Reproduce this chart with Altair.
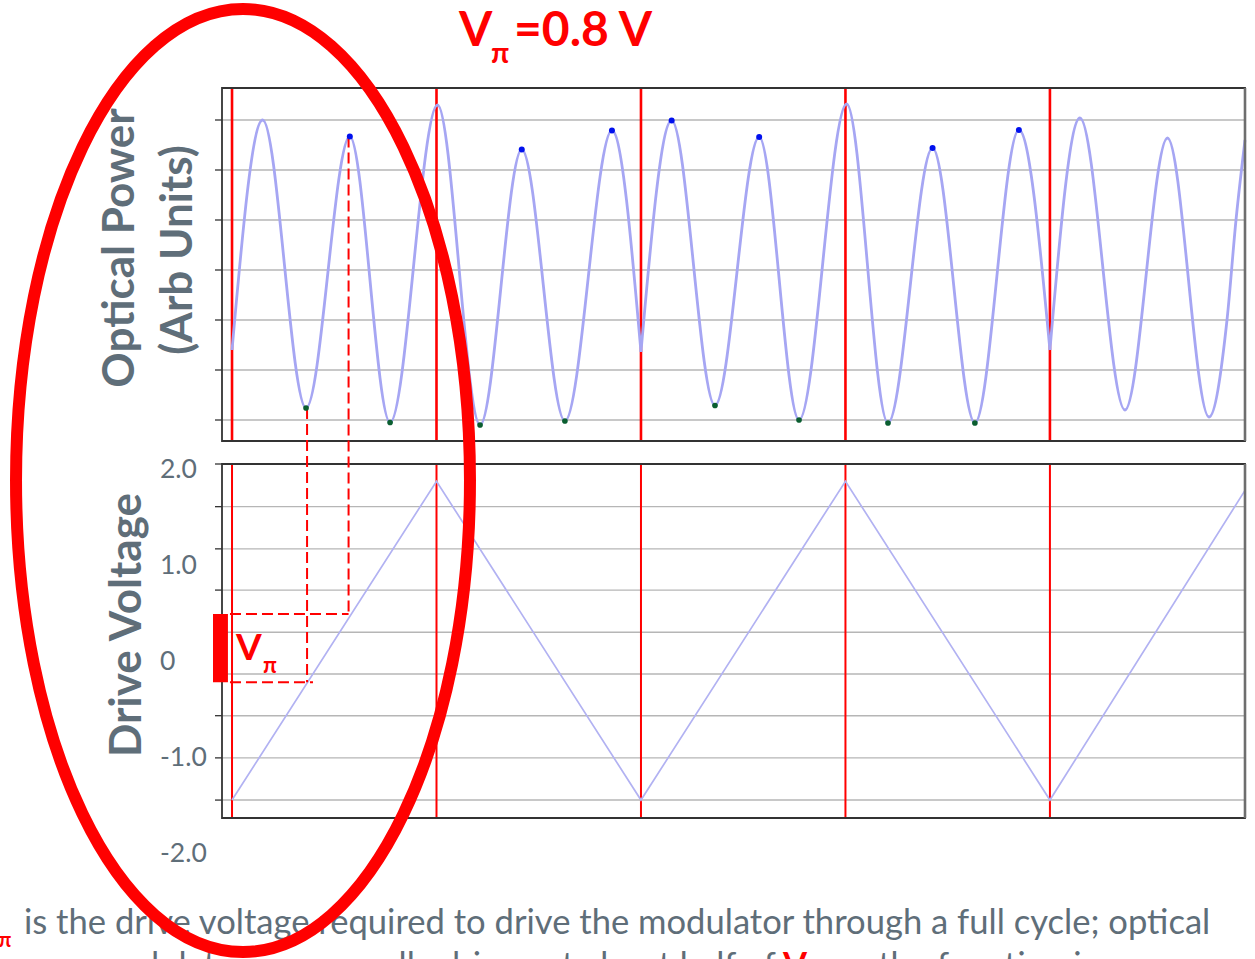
import altair as alt
import pandas as pd

# ---------------- data ----------------
# time axis in units of half a drive-ramp period (red markers at the turning points)
red_t = [0, 1, 2, 3, 4]

# optical power trace (arb. units), split at the ramp turning points (cusps)
trace_seg = ["a"] * 11 + ["b"] * 11 + ["c"] * 8
trace_t = [0.0, 0.150, 0.362, 0.576, 0.773, 1.005, 1.213, 1.417, 1.628, 1.858, 2.0,
           2.0, 2.150, 2.362, 2.578, 2.773, 3.006, 3.208, 3.426, 3.633, 3.848, 4.0,
           4.0, 4.147, 4.367, 4.575, 4.778, 4.866, 4.910, 4.954]
trace_p = [1.40, 6.00, 0.24, 5.67, -0.05, 6.30, -0.10, 5.41, -0.02, 5.79, 1.36,
           1.36, 5.99, 0.29, 5.66, 0.00, 6.32, -0.06, 5.44, -0.06, 5.80, 1.40,
           1.40, 6.04, 0.20, 5.64, 0.06, 2.00, 4.00, 5.60]

# detected maxima (blue) and minima (green)
peak_t = [0.576, 1.417, 1.858, 2.150, 2.578, 3.426, 3.848]
peak_p = [5.67, 5.41, 5.79, 5.99, 5.66, 5.44, 5.80]
trough_t = [0.362, 0.773, 1.213, 1.628, 2.362, 2.773, 3.208, 3.633]
trough_p = [0.24, -0.05, -0.10, -0.02, 0.29, 0.00, -0.06, -0.06]

# drive voltage ramp (V)
ramp_t = [0, 1, 2, 3, 4, 4.954]
ramp_v = [-1.44, 1.885, -1.44, 1.885, -1.44, 1.79]

# gridlines / ticks
grid_p = [0, 1, 2, 3, 4, 5, 6]
grid_v = [1.62, 1.18, 0.75, 0.31, -0.125, -0.56, -1.0, -1.44]
tick_v = [2.065] + grid_v
label_v = [2, 1, 0, -1, -2]
label_txt = ["2.0", "1.0", "0", "-1.0", "-2.0"]

# V-pi construction
vpi_low, vpi_high = -0.21, 0.50
vpi_t_low, vpi_t_high = 0.367, 0.570

# ---------------- scales ----------------
T_DOM, T_RNG = [-0.049, 4.954], [222, 1245]
P_DOM, P_RNG = [-0.42, 6.64], [441, 88]
V_DOM, V_RNG = [-1.627, 2.065], [818, 464]
TS = alt.Scale(domain=T_DOM, range=T_RNG)
PS = alt.Scale(domain=P_DOM, range=P_RNG)
VS = alt.Scale(domain=V_DOM, range=V_RNG)


def v_to_p(v):
    px = V_RNG[0] + (v - V_DOM[0]) / (V_DOM[1] - V_DOM[0]) * (V_RNG[1] - V_RNG[0])
    return P_DOM[0] + (px - P_RNG[0]) / (P_RNG[1] - P_RNG[0]) * (P_DOM[1] - P_DOM[0])


GRAY = "#5f6e79"
RED = "#ff0000"
FONT = "Lato"
CAP = 34.6


def X(f):
    return alt.X(f, type="quantitative", scale=TS, axis=None)


def YP(f):
    return alt.Y(f, type="quantitative", scale=PS, axis=None)


def YV(f):
    return alt.Y(f, type="quantitative", scale=VS, axis=None)


def label(s, x, y, **kw):
    return alt.Chart(pd.DataFrame({"s": [s]})).mark_text(**kw).encode(
        x=alt.value(x), y=alt.value(y), text="s:N")


layers = []

# gridlines
layers.append(alt.Chart(pd.DataFrame({"p": grid_p})).mark_rule(color="#b6b6b6", strokeWidth=1.6).encode(
    x=alt.value(T_RNG[0]), x2=alt.value(T_RNG[1]), y=YP("p")))
layers.append(alt.Chart(pd.DataFrame({"v": grid_v})).mark_rule(color="#b6b6b6", strokeWidth=1.4).encode(
    x=alt.value(T_RNG[0]), x2=alt.value(T_RNG[1]), y=YV("v")))
# ticks
layers.append(alt.Chart(pd.DataFrame({"p": grid_p})).mark_rule(color="#333333", strokeWidth=1.3).encode(
    x=alt.value(215), x2=alt.value(222), y=YP("p")))
layers.append(alt.Chart(pd.DataFrame({"v": tick_v})).mark_rule(color="#333333", strokeWidth=1.3).encode(
    x=alt.value(215), x2=alt.value(222), y=YV("v")))

# red turning-point markers
layers.append(alt.Chart(pd.DataFrame({"t": red_t})).mark_rule(color=RED, strokeWidth=2.6).encode(
    x=X("t"), y=alt.value(P_RNG[1]), y2=alt.value(P_RNG[0])))
layers.append(alt.Chart(pd.DataFrame({"t": red_t})).mark_rule(color=RED, strokeWidth=2.0).encode(
    x=X("t"), y=alt.value(V_RNG[1]), y2=alt.value(V_RNG[0])))

# traces
trace_df = pd.DataFrame({"t": trace_t, "p": trace_p, "seg": trace_seg})
layers.append(alt.Chart(trace_df).mark_line(interpolate="monotone", color="#a6a6f3", strokeWidth=2.8).encode(
    x=X("t"), y=YP("p"), detail="seg:N"))
ramp_df = pd.DataFrame({"t": ramp_t, "v": ramp_v})
layers.append(alt.Chart(ramp_df).mark_line(color="#b2b2f2", strokeWidth=1.7).encode(
    x=X("t"), y=YV("v")))

# panel frames
layers.append(alt.Chart(pd.DataFrame({"t1": [T_DOM[0]], "t2": [T_DOM[1]], "a": [P_DOM[0]], "b": [P_DOM[1]]}))
              .mark_rect(fillOpacity=0, stroke="#333333", strokeWidth=1.8)
              .encode(x=X("t1"), x2="t2:Q", y=YP("a"), y2="b:Q"))
layers.append(alt.Chart(pd.DataFrame({"t1": [T_DOM[0]], "t2": [T_DOM[1]], "a": [V_DOM[0]], "b": [V_DOM[1]]}))
              .mark_rect(fillOpacity=0, stroke="#333333", strokeWidth=1.8)
              .encode(x=X("t1"), x2="t2:Q", y=YV("a"), y2="b:Q"))
layers.append(alt.Chart(pd.DataFrame({"t": [T_DOM[1]]})).mark_rule(color="#6e6e6e", strokeWidth=2.6).encode(
    x=X("t"), y=alt.value(P_RNG[1]), y2=alt.value(P_RNG[0])))
layers.append(alt.Chart(pd.DataFrame({"t": [T_DOM[1]]})).mark_rule(color="#6e6e6e", strokeWidth=2.6).encode(
    x=X("t"), y=alt.value(V_RNG[1]), y2=alt.value(V_RNG[0])))

# V-pi construction lines
h_df = pd.DataFrame({"v": [vpi_high, vpi_low], "t1": [-0.01, -0.01], "t2": [vpi_t_high, 0.396]})
layers.append(alt.Chart(h_df).mark_rule(color=RED, strokeWidth=2, strokeDash=[11, 5]).encode(
    x=X("t1"), x2="t2:Q", y=YV("v")))
v_df = pd.DataFrame({"t": [vpi_t_high, vpi_t_low],
                     "p1": [5.67, 0.24],
                     "p2": [v_to_p(vpi_high), v_to_p(vpi_low)]})
layers.append(alt.Chart(v_df).mark_rule(color=RED, strokeWidth=2, strokeDash=[11, 5]).encode(
    x=X("t"), y=YP("p1"), y2="p2:Q"))

# extrema markers
layers.append(alt.Chart(pd.DataFrame({"t": peak_t, "p": peak_p})).mark_circle(size=36, opacity=1, color="#0010ee").encode(
    x=X("t"), y=YP("p")))
layers.append(alt.Chart(pd.DataFrame({"t": trough_t, "p": trough_p})).mark_circle(size=32, opacity=1, color="#0a5e30").encode(
    x=X("t"), y=YP("p")))

# red V-pi bar
layers.append(alt.Chart(pd.DataFrame({"t1": [-0.093], "t2": [-0.020], "a": [vpi_low], "b": [vpi_high]}))
              .mark_rect(color=RED).encode(x=X("t1"), x2="t2:Q", y=YV("a"), y2="b:Q"))
layers.append(label("V", 236, 660, align="left", baseline="alphabetic", fontSize=37, fontWeight="bold", font=FONT, color=RED))
layers.append(label("π", 263, 673, align="left", baseline="alphabetic", fontSize=22, fontWeight="bold", font=FONT, color=RED))

# voltage tick labels
layers.append(alt.Chart(pd.DataFrame({"v": label_v, "s": label_txt})).mark_text(
    align="left", baseline="middle", fontSize=26.5, font=FONT, color=GRAY).encode(
    x=alt.value(160), y=YV("v"), text="s:N"))

# axis titles
layers.append(label("Optical Power", 121, 248, angle=270, align="center", baseline="middle",
                    fontSize=44, fontWeight="bold", font=FONT, color=GRAY))
layers.append(label("(Arb Units)", 179, 250, angle=270, align="center", baseline="middle",
                    fontSize=44, fontWeight="bold", font=FONT, color=GRAY))
layers.append(label("Drive Voltage", 128, 625, angle=270, align="center", baseline="middle",
                    fontSize=44, fontWeight="bold", font=FONT, color=GRAY))

# title
layers.append(label("V", 459, 46, align="left", baseline="alphabetic", fontSize=48, fontWeight="bold", font=FONT, color=RED))
layers.append(label("π", 491, 63, align="left", baseline="alphabetic", fontSize=29, fontWeight="bold", font=FONT, color=RED))
layers.append(label("=0.8 V", 514, 46, align="left", baseline="alphabetic", fontSize=48, fontWeight="bold", font=FONT, color=RED))

# caption text
layers.append(label("π", 5, 947, align="center", baseline="alphabetic", fontSize=20, fontWeight="bold", font=FONT, color=RED))
layers.append(label("is the drive voltage required to drive the modulator through a full cycle; optical",
                    24, 934, align="left", baseline="alphabetic", fontSize=CAP, font=FONT, color=GRAY))
layers.append(label("modulators are usually driven at about half of", 776, 977, align="right",
                    baseline="alphabetic", fontSize=CAP, font=FONT, color=GRAY))
layers.append(label("V", 783, 977, align="left", baseline="alphabetic", fontSize=CAP, fontWeight="bold", font=FONT, color=RED))
layers.append(label(", so the function is", 818, 977, align="left", baseline="alphabetic", fontSize=CAP, font=FONT, color=GRAY))

# highlighting ellipse
ELLIPSE = "M -0.4814 0 A 0.4814 1 0 1 1 0.4814 0 A 0.4814 1 0 1 1 -0.4814 0 Z"
layers.append(alt.Chart(pd.DataFrame({"s": [0]})).mark_point(
    shape=ELLIPSE, size=(2 * 471.5) ** 2, filled=False, color=RED, strokeWidth=12, opacity=1).encode(
    x=alt.value(243), y=alt.value(480.5)))

chart = alt.layer(*layers).resolve_scale(y="independent").properties(
    width=1255, height=959, autosize="none", padding=0, background="white"
).configure_view(stroke=None)

chart.save("out.html", embed_options={"renderer": "svg", "actions": False})
